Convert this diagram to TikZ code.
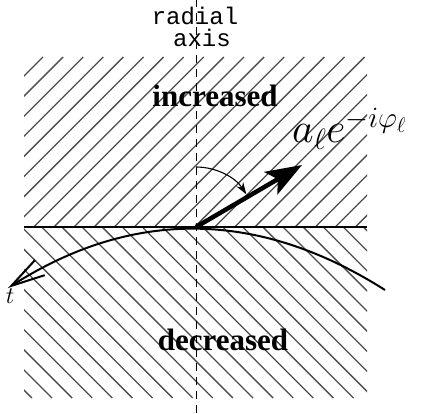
\RequirePackage{fix-cm}
\documentclass[tikz,border=0pt]{standalone}
\usepackage{fontspec}
\setmainfont{Liberation Serif}
\setmonofont{Liberation Mono}
\usetikzlibrary{arrows.meta,positioning}

\tikzset{
  hatch/.style={black!70, line width=1.3pt},
  axisline/.style={black, line width=0.9pt, dash pattern=on 8pt off 6pt},
  boundary/.style={black, line width=2pt},
  phasor/.style={black, line width=4.5pt, -{Stealth[length=36pt,width=26pt,inset=8pt]}},
  anglearc/.style={black, line width=1.1pt, -{Stealth[length=12pt,width=8pt]}},
}

\begin{document}
\begin{tikzpicture}[x=1pt,y=1pt]
    \useasboundingbox (0,0) rectangle (425,413);

    % Hatched regions
    \begin{scope}
        \clip (24,186) rectangle (367,356);
        \foreach \k in {-1,...,25}
            \draw[hatch] ({-127+20.1*\k},186) -- ++(170,170);
    \end{scope}
    \begin{scope}
        \clip (24,15) rectangle (367,186);
        \foreach \k in {-2,...,25}
            \draw[hatch] ({52+20.1*\k},15) -- ++(-171,171);
    \end{scope}

    % Points
    \coordinate (O) at (196,186);
    \coordinate (axbot) at (196,0);
    \coordinate (axtop) at (196,413);
    \coordinate (lineL) at (24,186);
    \coordinate (lineR) at (367,186);
    \coordinate (tip) at (302,248);
    \coordinate (curveL) at (8,125);
    \coordinate (curveR) at (385,123);

    % Axis and boundary
    \draw[axisline] (axbot) -- (axtop);
    \draw[boundary] (lineL) -- (lineR);
    \draw[boundary, -{Straight Barb[length=34pt,width=18pt]}]
        (curveR) .. controls (259,203) and (133,205) .. (curveL);

    % Phasor and angle
    \draw[phasor] (O) -- (tip);
    \draw[anglearc] ([shift={(90:60)}]O) arc[start angle=90, end angle=33, radius=60];

    % Labels
    \node[anchor=base, font=\ttfamily\fontsize{24}{24}\selectfont] (radial) at (195,388) {radial};
    \node[anchor=base, font=\ttfamily\fontsize{24}{24}\selectfont] (axis) at (202,366) {axis};
    \node[anchor=base, font=\bfseries\fontsize{31}{31}\selectfont] (incr) at (215,306) {increased};
    \node[anchor=base, font=\bfseries\fontsize{31}{31}\selectfont] (decr) at (223,63) {decreased};
    \node[anchor=base west, inner sep=0pt, font=\fontsize{42}{42}\selectfont] (amp) at (292,270) {$a_\ell e^{-i\varphi_\ell}$};
    \node[anchor=base, inner sep=0pt, font=\fontsize{24}{24}\selectfont] (t) at (10,110) {$t$};
\end{tikzpicture}
\end{document}
